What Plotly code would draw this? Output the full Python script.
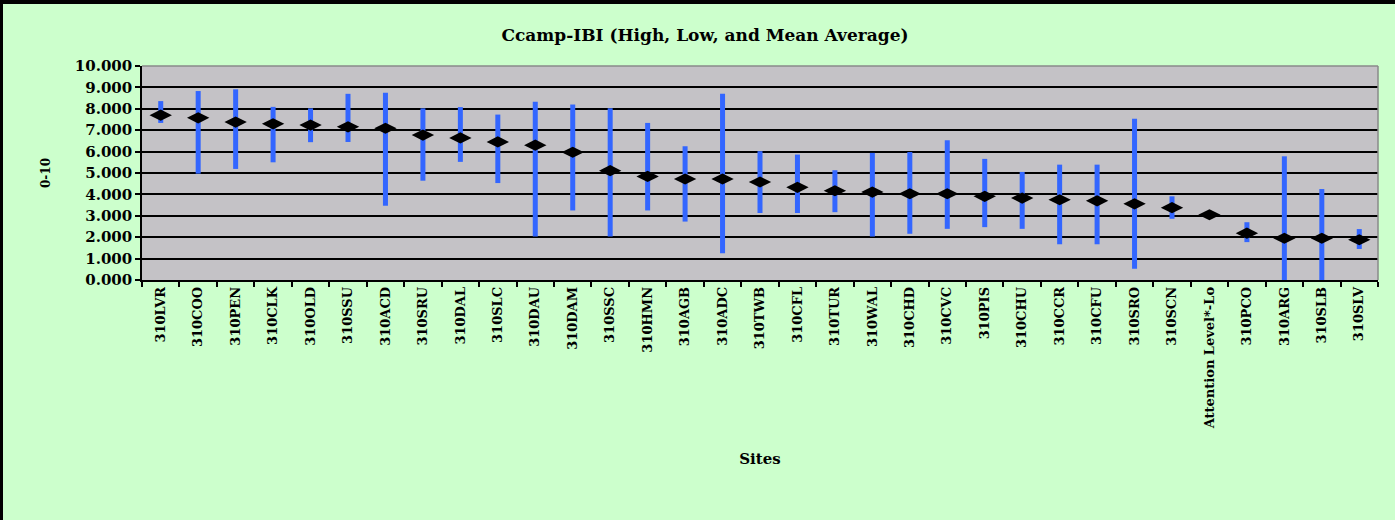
import plotly.graph_objects as go

sites = ["310LVR", "310COO", "310PEN", "310CLK", "310OLD", "310SSU", "310ACD", "310SRU",
         "310DAL", "310SLC", "310DAU", "310DAM", "310SSC", "310HMN", "310AGB", "310ADC",
         "310TWB", "310CFL", "310TUR", "310WAL", "310CHD", "310CVC", "310PIS", "310CHU",
         "310CCR", "310CFU", "310SRO", "310SCN", "Attention Level*-Lo", "310PCO", "310ARG",
         "310SLB", "310SLV"]
high = [8.36, 8.83, 8.91, 8.09, 8.02, 8.70, 8.75, 8.02, 8.08, 7.73, 8.33, 8.20, 8.02, 7.34,
        6.25, 8.70, 6.02, 5.86, 5.13, 5.94, 5.98, 6.53, 5.66, 5.05, 5.39, 5.39, 7.53, 3.91,
        3.05, 2.70, 5.78, 4.25, 2.38]
low = [7.34, 4.97, 5.19, 5.50, 6.44, 6.45, 3.47, 4.64, 5.52, 4.53, 2.03, 3.25, 2.03, 3.25,
       2.73, 1.25, 3.13, 3.13, 3.17, 2.03, 2.16, 2.39, 2.47, 2.39, 1.67, 1.67, 0.52, 2.86,
       3.05, 1.77, 0.00, 0.00, 1.45]
mean = [7.70, 7.58, 7.38, 7.30, 7.24, 7.16, 7.09, 6.77, 6.64, 6.45, 6.30, 5.97, 5.11, 4.84,
        4.72, 4.72, 4.58, 4.33, 4.17, 4.11, 4.03, 4.03, 3.91, 3.83, 3.75, 3.70, 3.56, 3.38,
        3.05, 2.19, 1.95, 1.95, 1.88]
ytick_vals = [0, 1, 2, 3, 4, 5, 6, 7, 8, 9, 10]

FONT = "DejaVu Serif"
fig = go.Figure()
fig.add_trace(go.Scatter(
    x=sites, y=mean, mode="markers",
    marker=dict(symbol="diamond-wide", size=16, color="black"),
    error_y=dict(type="data", symmetric=False,
                 array=[h - m for h, m in zip(high, mean)],
                 arrayminus=[m - l for m, l in zip(mean, low)],
                 color="#3366FF", thickness=5, width=0),
    showlegend=False, cliponaxis=False,
))

W, H = 1395, 520
ml, mr, mt, mb = 142, 17, 66, 240
pw, ph = W - ml - mr, H - mt - mb

def px2x(p):
    return (p - ml) / pw

def px2y(p):
    return (H - mb - p) / ph

shapes = [
    dict(type="rect", xref="paper", yref="paper", x0=px2x(0), x1=px2x(W), y0=px2y(4), y1=px2y(0),
         fillcolor="black", line=dict(width=0), layer="above"),
    dict(type="rect", xref="paper", yref="paper", x0=px2x(0), x1=px2x(3), y0=px2y(H), y1=px2y(0),
         fillcolor="black", line=dict(width=0), layer="above"),
    dict(type="line", xref="paper", yref="paper", x0=0, x1=1, y0=1, y1=1,
         line=dict(color="#8a8a8a", width=1.5), layer="above"),
    dict(type="line", xref="paper", yref="paper", x0=1, x1=1, y0=0, y1=1,
         line=dict(color="#8a8a8a", width=1.5), layer="above"),
]

fig.update_layout(
    width=W, height=H,
    margin=dict(l=ml, r=mr, t=mt, b=mb),
    paper_bgcolor="#CCFFCC", plot_bgcolor="#C4C2C6",
    title=dict(text="<b>Ccamp-IBI (High, Low, and Mean Average)</b>", x=(705) / W, xanchor="center",
               y=1 - 35 / H, yanchor="middle", font=dict(family=FONT, size=17, color="black")),
    shapes=shapes,
    xaxis=dict(type="category", tickson="boundaries", ticks="outside", ticklen=5, tickcolor="black",
               tickwidth=1.5, showline=True, linecolor="black", linewidth=1.5, showgrid=False,
               tickangle=-90, tickfont=dict(family=FONT, size=13, color="black", weight="bold"),
               title=dict(text="<b>Sites</b>", font=dict(family=FONT, size=15, color="black"), standoff=25),
               range=[-0.5, len(sites) - 0.5]),
    yaxis=dict(range=[0, 10], tickvals=ytick_vals, tickformat=".3f", ticks="outside", ticklen=5,
               tickcolor="black", tickwidth=1.5, showline=True, linecolor="black", linewidth=1.5,
               showgrid=True, gridcolor="black", gridwidth=1.5, zeroline=False,
               tickfont=dict(family=FONT, size=15, color="black", weight="bold"),
               title=dict(text="<b>0-10</b>", font=dict(family=FONT, size=12, color="black"), standoff=22)),
)
fig.write_html("out.html", config={"displayModeBar": False},
               post_script="document.body.style.margin='0';document.body.style.overflow='hidden';")
